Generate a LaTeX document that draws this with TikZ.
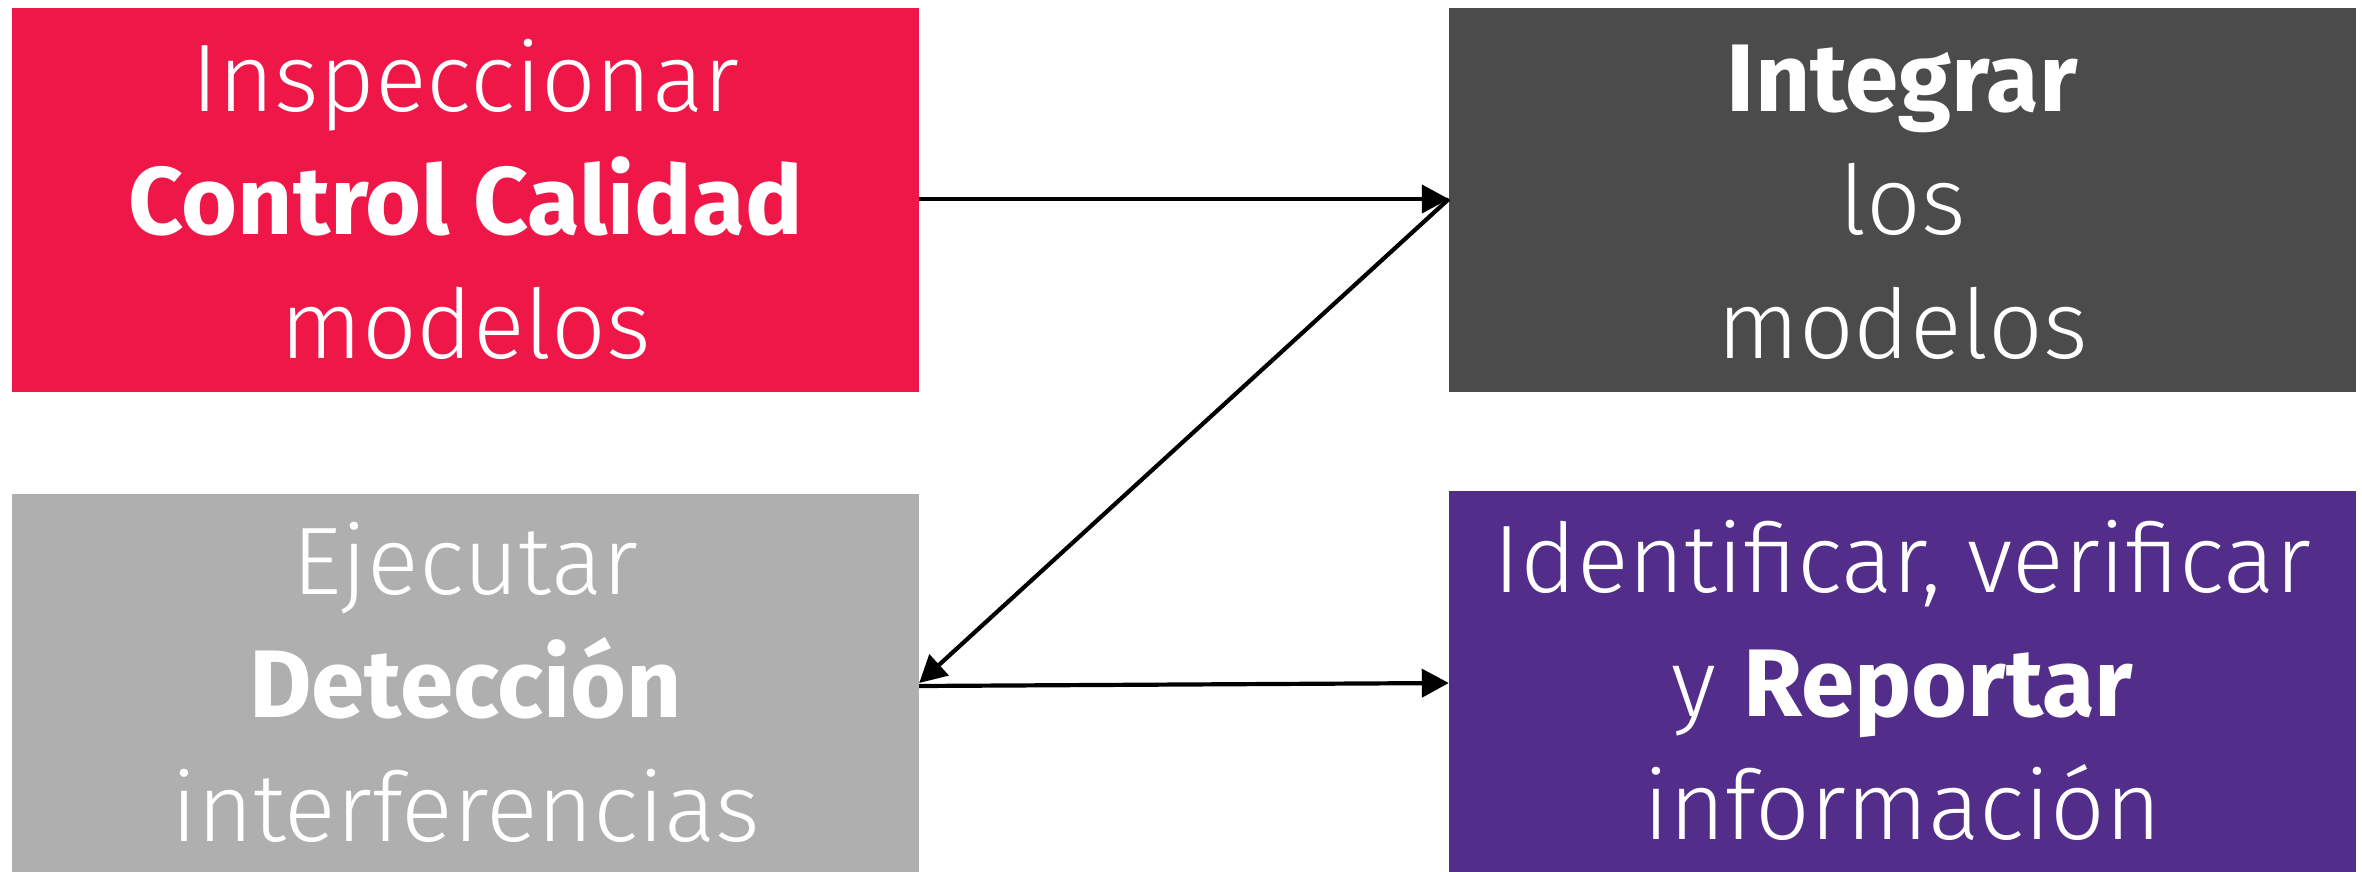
\documentclass[tikz,border=0pt]{standalone}
\usepackage{fontspec}
\setmainfont{Fira Sans}[UprightFont={* Light}, BoldFont={* Bold}]
\usetikzlibrary{arrows.meta}
\definecolor{cred}{RGB}{239,22,72}
\definecolor{cdark}{RGB}{75,75,75}
\definecolor{cgray}{RGB}{175,175,175}
\definecolor{cpurple}{RGB}{82,46,138}
\newcommand\mytopstrut{\rule{0pt}{91pt}}
\newcommand\mybotstrut{\rule[-22pt]{0pt}{22pt}}
\begin{document}
\begin{tikzpicture}[x=1pt,y=-1pt,
  box/.style={rectangle, inner sep=0pt, minimum width=907pt, text=white, align=center,
    font=\fontsize{96}{123.5}\selectfont},
  link/.style={line width=4.2pt, -{Triangle[length=27pt,width=28pt]}}]
\useasboundingbox (0,0) rectangle (2362,872);
\node[box, fill=cred, minimum height=384pt] (insp) at (465.5,200)
  {\mytopstrut Inspeccionar\\ \textbf{Control Calidad}\\ modelos\mybotstrut};
\node[box, fill=cdark, minimum height=384pt] (integ) at (1902.5,200)
  {\mytopstrut\textbf{Integrar}\\ los\\ modelos\mybotstrut};
\node[box, fill=cgray, minimum height=378pt] (ejec) at (465.5,683)
  {\mytopstrut Ejecutar\\ \textbf{Detección}\\ interferencias\mybotstrut};
\node[box, fill=cpurple, minimum height=381pt] (ident) at (1902.5,681.5)
  {\mytopstrut Identificar, verificar\\ y \textbf{Reportar}\\ información\mybotstrut};
\draw[link] ([yshift=1pt]insp.east) -- ([yshift=1pt]integ.west);
\draw[link] ([yshift=1pt]integ.west) -- (ejec.east);
\draw[link] ([yshift=-3pt]ejec.east) -- ([yshift=-1.5pt]ident.west);
\end{tikzpicture}
\end{document}
